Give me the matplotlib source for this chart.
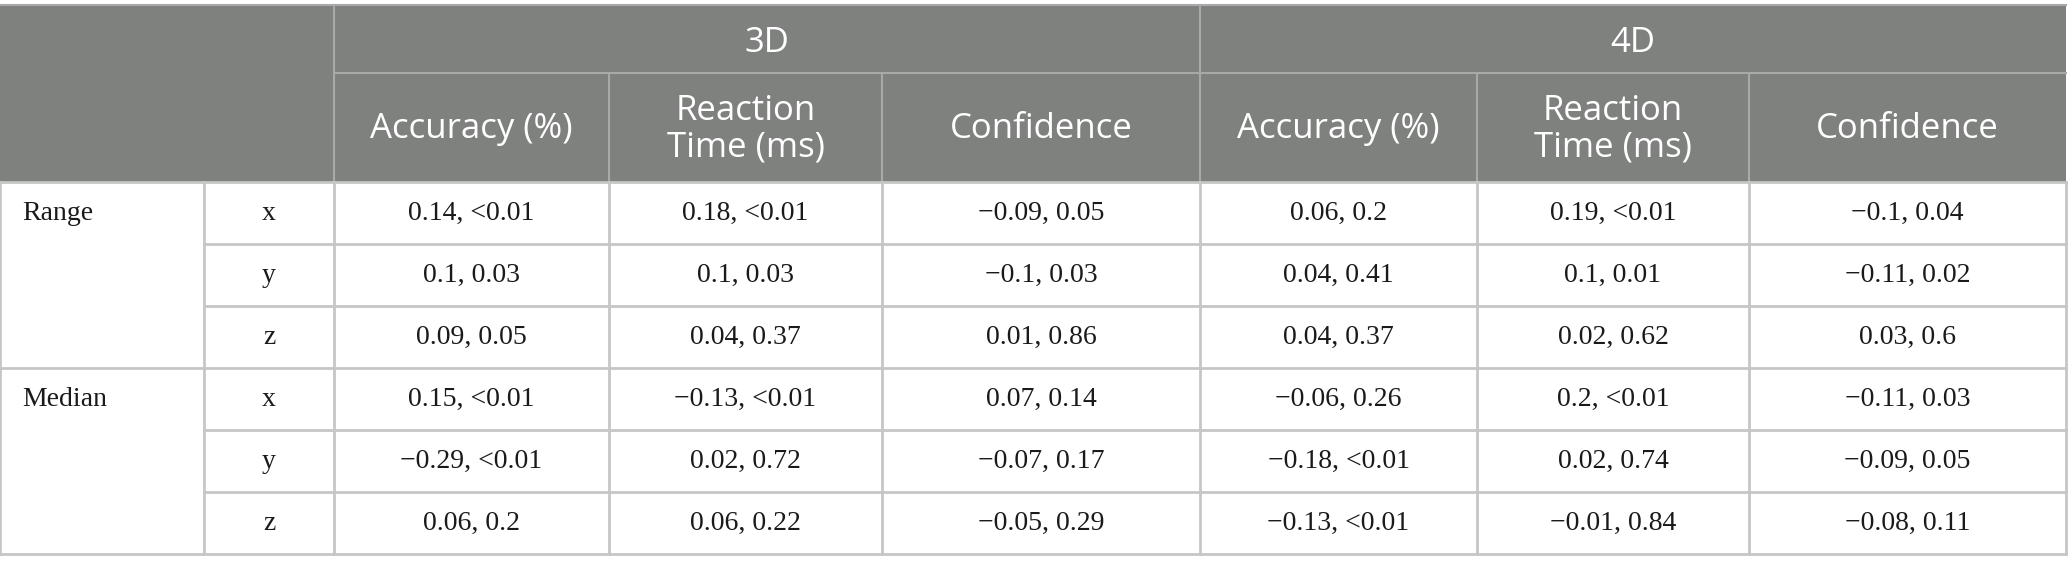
import matplotlib
matplotlib.use("Agg")
import matplotlib.pyplot as plt
from matplotlib.patches import Rectangle

# Table content
row_groups = ["Range", "Median"]
axis_labels = ["x", "y", "z"]
conditions = ["3D", "4D"]
metrics = ["Accuracy (%)", "Reaction\nTime (ms)", "Confidence"]

# correlation coefficient per cell (rows: Range x,y,z then Median x,y,z)
coef = [
    ["0.14", "0.18", "\u22120.09", "0.06", "0.19", "\u22120.1"],
    ["0.1", "0.1", "\u22120.1", "0.04", "0.1", "\u22120.11"],
    ["0.09", "0.04", "0.01", "0.04", "0.02", "0.03"],
    ["0.15", "\u22120.13", "0.07", "\u22120.06", "0.2", "\u22120.11"],
    ["\u22120.29", "0.02", "\u22120.07", "\u22120.18", "0.02", "\u22120.09"],
    ["0.06", "0.06", "\u22120.05", "\u22120.13", "\u22120.01", "\u22120.08"],
]
# p values per cell
pval = [
    ["<0.01", "<0.01", "0.05", "0.2", "<0.01", "0.04"],
    ["0.03", "0.03", "0.03", "0.41", "0.01", "0.02"],
    ["0.05", "0.37", "0.86", "0.37", "0.62", "0.6"],
    ["<0.01", "<0.01", "0.14", "0.26", "<0.01", "0.03"],
    ["<0.01", "0.72", "0.17", "<0.01", "0.74", "0.05"],
    ["0.2", "0.22", "0.29", "<0.01", "0.84", "0.11"],
]

# layout in pixels
W, H = 2068, 573
col_x = [0, 204, 334, 609, 882, 1200, 1477, 1749, 2066]
top, split, head_bot = 5, 73, 182
row_h = 62
header_gray = "#7f817f"
head_line = "#a8aaa8"
grid_gray = "#c6c6c6"

fig = plt.figure(figsize=(W / 100, H / 100), dpi=100)
ax = fig.add_axes([0, 0, 1, 1])
ax.set_xlim(0, W)
ax.set_ylim(H, 0)
ax.axis("off")

# header block
ax.add_patch(Rectangle((col_x[0], top), col_x[-1] - col_x[0], head_bot - top,
                       facecolor=header_gray, edgecolor="none"))
ax.plot([col_x[0], col_x[-1]], [top, top], color=head_line, lw=1.5)
ax.plot([col_x[2], col_x[-1]], [split, split], color=head_line, lw=1.5)
for i, cx in enumerate(col_x[2:-1]):
    y0 = top if i % 3 == 0 else split
    ax.plot([cx, cx], [y0, head_bot], color=head_line, lw=1.5)

head_font = dict(family=["Open Sans", "DejaVu Sans"], color="white", fontsize=25)
body_font = dict(family=["Liberation Serif", "DejaVu Serif"], color="#1a1a1a", fontsize=20)

for g, cond in enumerate(conditions):
    x0, x1 = col_x[2 + 3 * g], col_x[5 + 3 * g]
    ax.text((x0 + x1) / 2, (top + split) / 2 + 4, cond, ha="center", va="center", **head_font)
    for m, name in enumerate(metrics):
        c = 2 + 3 * g + m
        ax.text((col_x[c] + col_x[c + 1]) / 2, (split + head_bot) / 2 + 2, name,
                ha="center", va="center", linespacing=1.08, **head_font)

# body
n_rows = len(row_groups) * len(axis_labels)
bottom = head_bot + n_rows * row_h
for r in range(n_rows + 1):
    y = head_bot + r * row_h
    x_start = col_x[0] if r % len(axis_labels) == 0 else col_x[1]
    ax.plot([x_start, col_x[-1]], [y, y], color=grid_gray, lw=2)
for cx in col_x[1:]:
    ax.plot([cx, cx], [head_bot, bottom], color=grid_gray, lw=2)
ax.plot([col_x[0], col_x[0]], [head_bot, bottom], color=grid_gray, lw=2)

for gi, grp in enumerate(row_groups):
    y_first = head_bot + gi * len(axis_labels) * row_h + row_h / 2
    ax.text(col_x[0] + 22, y_first, grp, ha="left", va="center", **body_font)
    for ai, lab in enumerate(axis_labels):
        r = gi * len(axis_labels) + ai
        yc = head_bot + r * row_h + row_h / 2
        ax.text((col_x[1] + col_x[2]) / 2, yc, lab, ha="center", va="center", **body_font)
        for c in range(len(coef[r])):
            xc = (col_x[2 + c] + col_x[3 + c]) / 2
            ax.text(xc, yc, f"{coef[r][c]}, {pval[r][c]}", ha="center", va="center", **body_font)

fig.savefig("out.png", dpi=100, facecolor="white")
